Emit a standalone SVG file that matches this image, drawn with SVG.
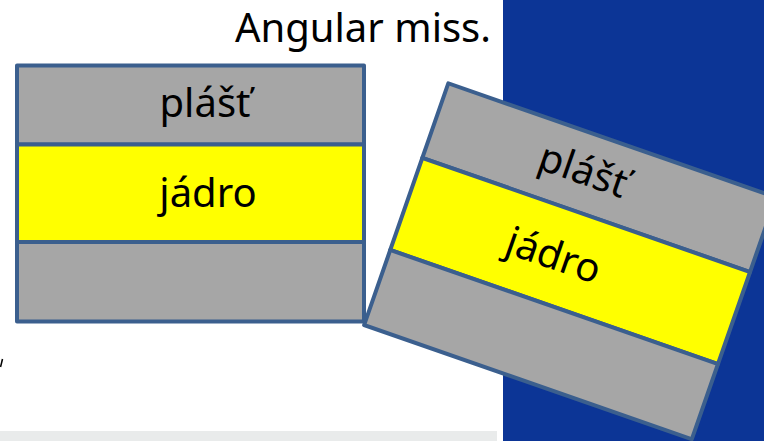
<svg xmlns="http://www.w3.org/2000/svg" width="764" height="441" viewBox="0 0 764 441">
<style>
.band{stroke:#3b5f8e;stroke-width:4;stroke-linejoin:round}
.clad{fill:#a6a6a6}
.core{fill:#ffff00}
.lbl{font-family:"Noto Sans","Open Sans",sans-serif;font-size:40px;fill:#000}
</style>
<rect x="0" y="0" width="764" height="441" fill="#ffffff"/>
<rect x="503" y="0" width="261" height="441" fill="#0c3596"/>
<rect x="0" y="431" width="497" height="10" fill="#e9ebeb"/>
<path d="M2.5 359 L0.5 367" stroke="#000" stroke-width="1.5"/>
<text class="lbl" x="491" y="42" text-anchor="end">Angular miss.</text>
<g id="fiber-straight">
<rect class="band clad" x="17" y="65.5" width="347" height="79"/>
<rect class="band core" x="17" y="144.5" width="347" height="97.5"/>
<rect class="band clad" x="17" y="242" width="347" height="79.5"/>
<text class="lbl" x="205" y="117" text-anchor="middle">plášť</text>
<text class="lbl" x="208" y="207" text-anchor="middle">jádro</text>
</g>
<g id="fiber-tilted" transform="translate(448.3 83.3) rotate(19.2)">
<rect class="band clad" x="0" y="0" width="347" height="79"/>
<rect class="band core" x="0" y="79" width="347" height="97.5"/>
<rect class="band clad" x="0" y="176.5" width="347" height="79.5"/>
<text class="lbl" x="156" y="51.5" text-anchor="middle">plášť</text>
<text class="lbl" x="156" y="141.5" text-anchor="middle">jádro</text>
</g>
<g id="connectors"></g>
</svg>
